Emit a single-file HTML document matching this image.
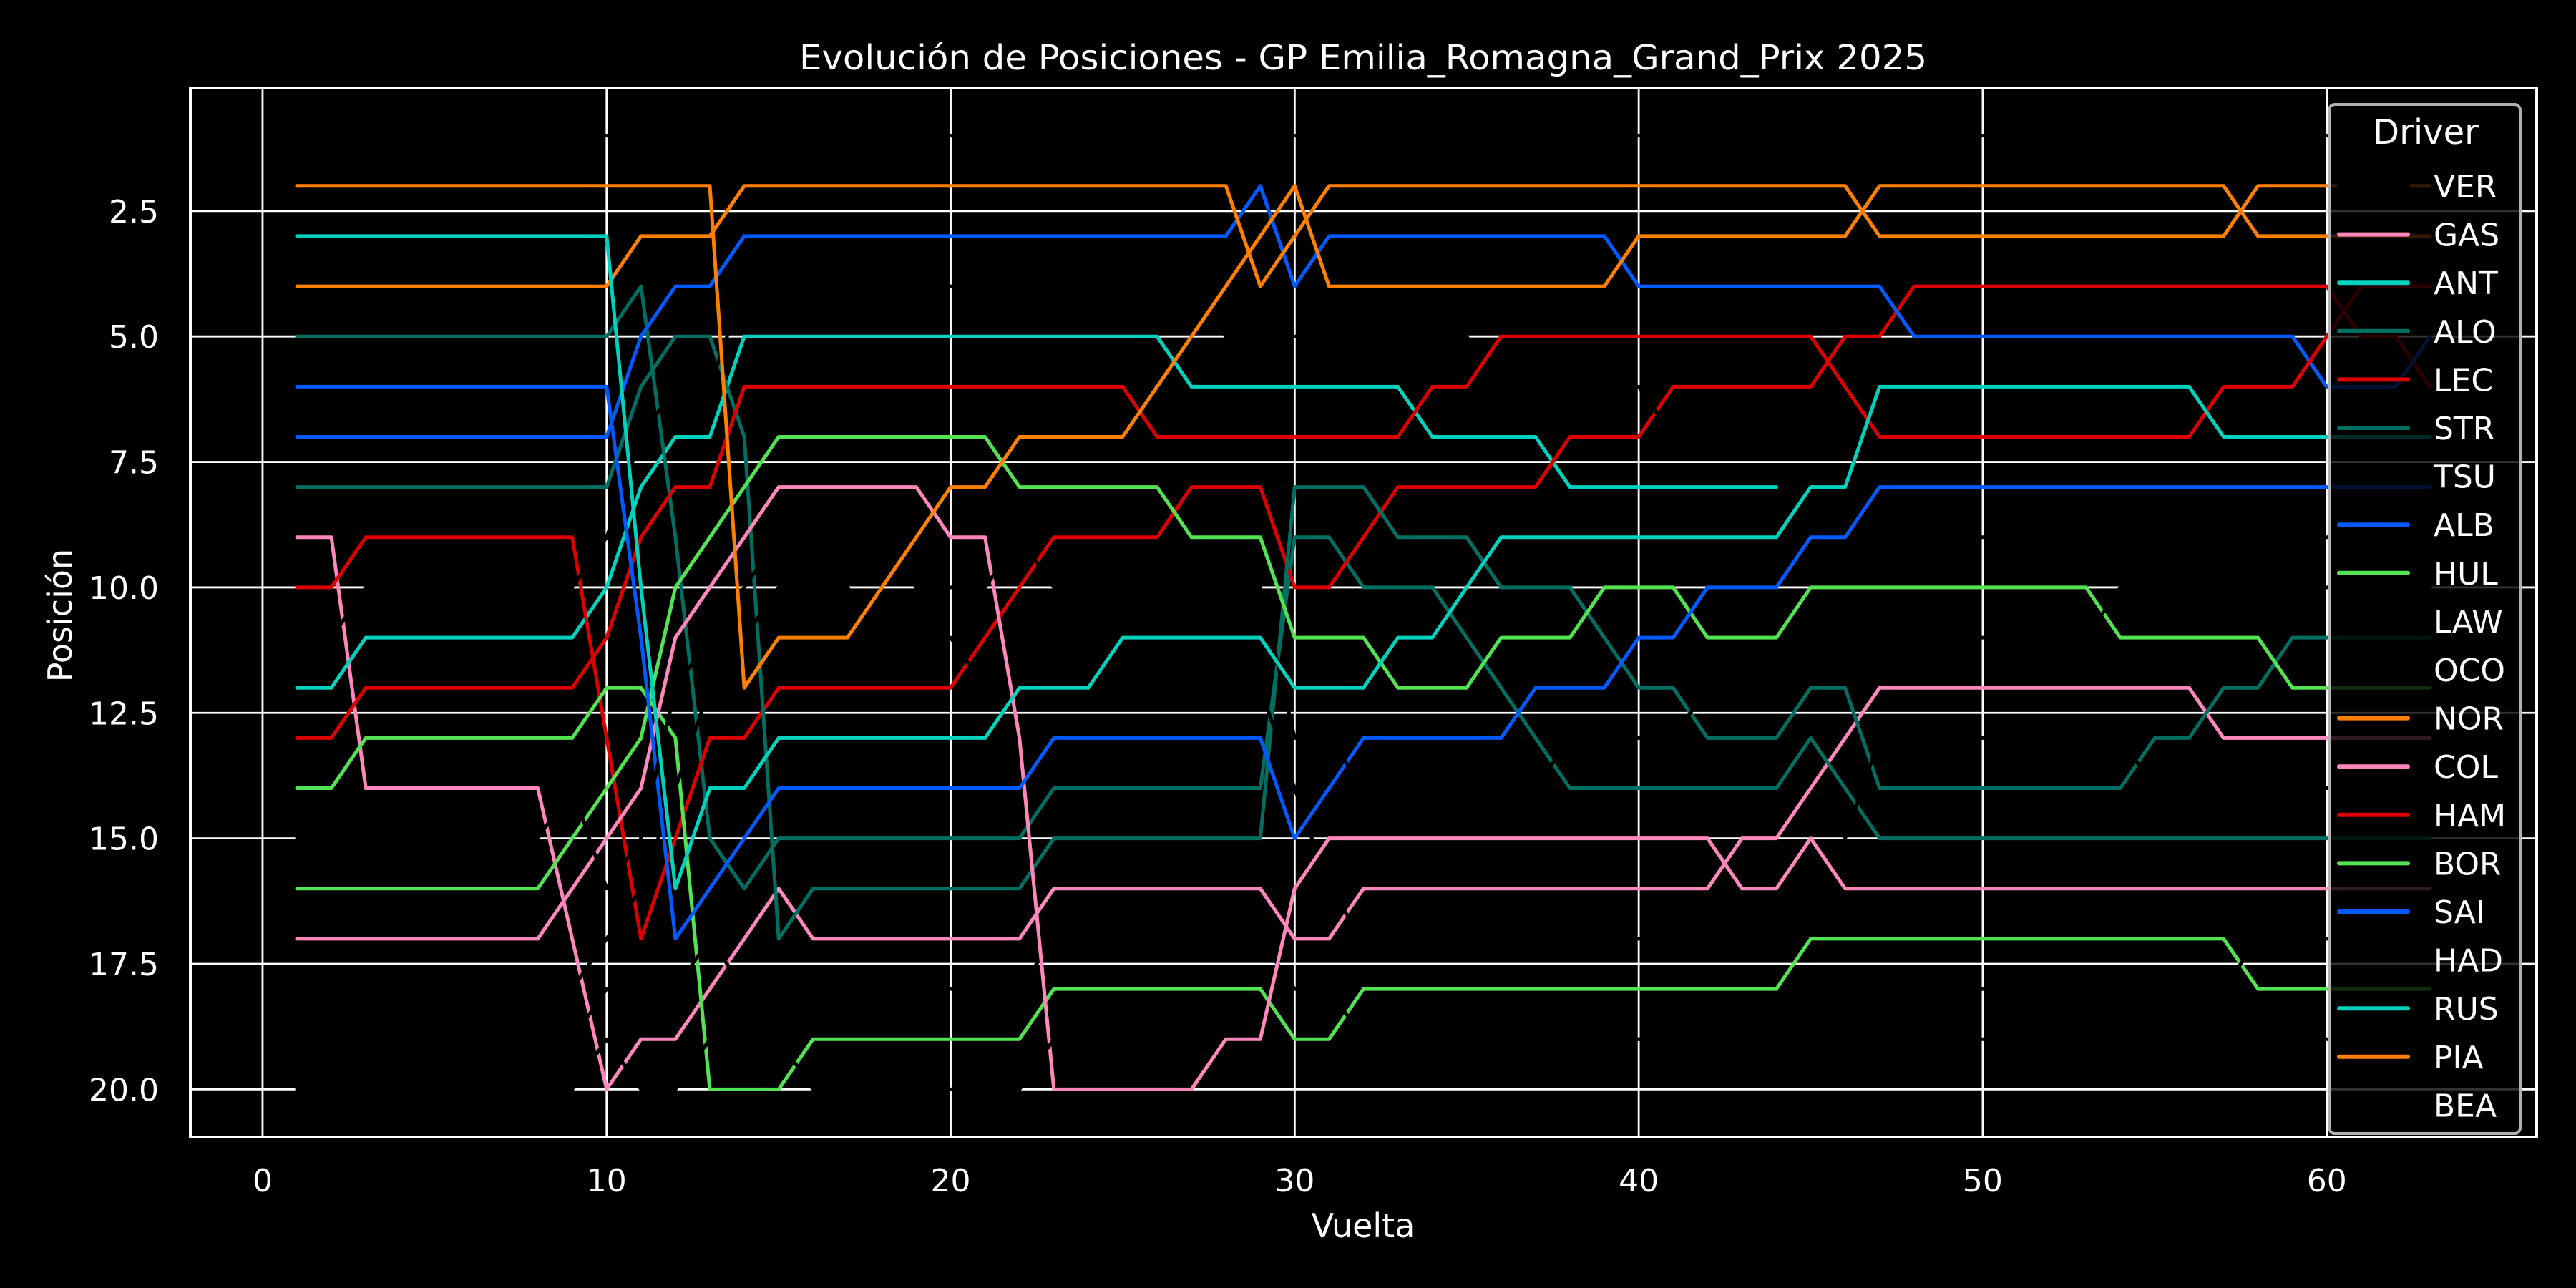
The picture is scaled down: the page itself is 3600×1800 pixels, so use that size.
<!DOCTYPE html>
<html><head><meta charset="utf-8"><title>Evolución de Posiciones</title>
<style>html,body{margin:0;padding:0;background:#000;}svg{display:block;}</style></head>
<body>
<svg id="chart" xmlns="http://www.w3.org/2000/svg" width="3600" height="1800" viewBox="0 0 3600 1800" style="font-family:'DejaVu Sans','Liberation Sans',sans-serif">
<rect x="0" y="0" width="3600" height="1800" fill="#000"/>
<g id="grid"></g>
<g id="series"></g>
<g id="axes"></g>
<g id="legend"></g>
<text x="1905" y="97" fill="#fff" font-size="48" text-anchor="middle" textLength="1576" lengthAdjust="spacingAndGlyphs">Evolución de Posiciones - GP Emilia_Romagna_Grand_Prix 2025</text>
<text x="1905" y="1729" fill="#fff" font-size="46" text-anchor="middle">Vuelta</text>
<text x="100" y="860" fill="#fff" font-size="46" text-anchor="middle" transform="rotate(-90 100 860)">Posición</text>
</svg>
<script>
var drivers = ["VER","GAS","ANT","ALO","LEC","STR","TSU","ALB","HUL","LAW","OCO","NOR","COL","HAM","BOR","SAI","HAD","RUS","PIA","BEA"];
var driverColors = ["#000000","#ff87bc","#00d2be","#006f62","#dc0000","#006f62","#000000","#005aff","#52e252","#000000","#000000","#ff8000","#ff87bc","#dc0000","#52e252","#005aff","#000000","#00d2be","#ff8000","#000000"];
var xTicks = [0,10,20,30,40,50,60];
var yTicks = [2.5,5.0,7.5,10.0,12.5,15.0,17.5,20.0];
var yTickLabels = ["2.5","5.0","7.5","10.0","12.5","15.0","17.5","20.0"];
var N = null;
var VER = [1,1,1,1,1,1,1,1,1,1,1,1,1,1,1,1,1,1,1,1,1,1,1,1,1,1,1,1,1,1,1,1,1,1,1,1,1,1,1,1,1,1,1,1,1,1,1,1,1,1,1,1,1,1,1,1,1,1,1,1,1,1,1];
var GAS = [9,9,14,14,14,14,14,14,17,20,19,19,18,17,16,17,17,17,17,17,17,17,16,16,16,16,16,16,16,17,17,16,16,16,16,16,16,16,16,16,16,16,15,15,14,13,12,12,12,12,12,12,12,12,12,12,13,13,13,13,13,13,13];
var ANT = [12,12,11,11,11,11,11,11,11,10,8,7,7,5,5,5,5,5,5,5,5,5,5,5,5,5,6,6,6,6,6,6,6,7,7,7,7,8,8,8,8,8,8,8,N,N,N,N,N,N,N,N,N,N,N,N,N,N,N,N,N,N,N];
var ALO = [5,5,5,5,5,5,5,5,5,5,4,9,15,16,15,15,15,15,15,15,15,15,14,14,14,14,14,14,14,9,9,10,10,10,11,12,13,14,14,14,14,14,14,14,13,14,15,15,15,15,15,15,15,15,15,15,15,15,15,15,15,15,15];
var LEC = [10,10,9,9,9,9,9,9,9,13,17,15,13,13,12,12,12,12,12,12,11,10,9,9,9,9,8,8,8,10,10,9,8,8,8,8,8,7,7,7,6,6,6,6,6,5,5,4,4,4,4,4,4,4,4,4,4,4,4,4,5,5,6];
var STR = [8,8,8,8,8,8,8,8,8,8,6,5,5,7,17,16,16,16,16,16,16,16,15,15,15,15,15,15,15,8,8,8,9,9,9,10,10,10,11,12,12,13,13,13,12,12,14,14,14,14,14,14,14,14,13,13,12,12,11,11,11,11,11];
var TSU = [11,11,10,10,10,10,10,10,10,9,7,6,6,4,4,4,4,4,4,4,4,4,4,4,4,4,4,5,5,5,5,5,5,5,5,6,6,6,6,6,7,7,7,7,7,7,9,9,9,9,9,9,9,9,9,9,9,9,9,9,9,9,9];
var ALB = [7,7,7,7,7,7,7,7,7,7,5,4,4,3,3,3,3,3,3,3,3,3,3,3,3,3,3,3,2,4,3,3,3,3,3,3,3,3,3,4,4,4,4,4,4,4,4,5,5,5,5,5,5,5,5,5,5,5,5,6,6,6,5];
var HUL = [14,14,13,13,13,13,13,13,13,12,12,13,20,20,20,19,19,19,19,19,19,19,18,18,18,18,18,18,18,19,19,18,18,18,18,18,18,18,18,18,18,18,18,18,17,17,17,17,17,17,17,17,17,17,17,17,17,18,18,18,18,18,18];
var LAW = [19,19,19,19,19,19,19,19,19,18,18,18,17,18,18,18,18,18,18,18,18,18,17,17,17,17,17,17,17,18,18,19,19,19,19,19,19,19,19,19,19,19,19,19,18,18,18,18,18,18,18,18,18,18,18,18,18,17,17,17,17,17,17];
var OCO = [18,18,18,18,18,18,18,18,18,17,16,14,12,11,10,10,10,11,11,11,12,11,11,11,12,12,12,12,12,14,16,17,17,17,17,17,17,17,17,17,17,17,17,17,16,15,13,13,13,13,13,13,13,13,14,14,14,14,14,14,14,14,14];
var NOR = [4,4,4,4,4,4,4,4,4,4,3,3,3,2,2,2,2,2,2,2,2,2,2,2,2,2,2,2,4,3,2,2,2,2,2,2,2,2,2,2,2,2,2,2,2,2,3,3,3,3,3,3,3,3,3,3,3,2,2,2,2,2,2];
var COL = [17,17,17,17,17,17,17,17,16,15,14,11,10,9,8,8,8,8,8,9,9,13,20,20,20,20,20,19,19,16,15,15,15,15,15,15,15,15,15,15,15,15,16,16,15,16,16,16,16,16,16,16,16,16,16,16,16,16,16,16,16,16,16];
var HAM = [13,13,12,12,12,12,12,12,12,11,9,8,8,6,6,6,6,6,6,6,6,6,6,6,6,7,7,7,7,7,7,7,7,6,6,5,5,5,5,5,5,5,5,5,5,6,7,7,7,7,7,7,7,7,7,7,6,6,6,5,4,4,4];
var BOR = [16,16,16,16,16,16,16,16,15,14,13,10,9,8,7,7,7,7,7,7,7,8,8,8,8,8,9,9,9,11,11,11,12,12,12,11,11,11,10,10,10,11,11,11,10,10,10,10,10,10,10,10,10,11,11,11,11,11,12,12,12,12,12];
var SAI = [6,6,6,6,6,6,6,6,6,6,11,17,16,15,14,14,14,14,14,14,14,14,13,13,13,13,13,13,13,15,14,13,13,13,13,13,12,12,12,11,11,10,10,10,9,9,8,8,8,8,8,8,8,8,8,8,8,8,8,8,8,8,8];
var HAD = [15,15,15,15,15,15,15,15,14,16,15,12,11,10,9,9,9,9,10,10,10,9,10,10,10,10,10,10,10,13,13,14,14,14,14,14,14,13,13,13,13,12,12,12,11,11,11,11,11,11,11,11,11,10,10,10,10,10,10,10,10,10,10];
var RUS = [3,3,3,3,3,3,3,3,3,3,10,16,14,14,13,13,13,13,13,13,13,12,12,12,11,11,11,11,11,12,12,12,11,11,10,9,9,9,9,9,9,9,9,9,8,8,6,6,6,6,6,6,6,6,6,6,7,7,7,7,7,7,7];
var PIA = [2,2,2,2,2,2,2,2,2,2,2,2,2,12,11,11,11,10,9,8,8,7,7,7,7,6,5,4,3,2,4,4,4,4,4,4,4,4,4,3,3,3,3,3,3,3,2,2,2,2,2,2,2,2,2,2,2,3,3,3,3,3,3];
var BEA = [20,20,20,20,20,20,20,20,20,19,20,20,19,19,19,20,20,20,20,20,20,20,19,19,19,19,19,N,N,N,N,19,19,19,19,19,19,19,19,19,19,19,19,19,19,19,19,19,19,19,19,19,19,19,19,19,19,19,19,19,19,19,19];
var positions = [VER,GAS,ANT,ALO,LEC,STR,TSU,ALB,HUL,LAW,OCO,NOR,COL,HAM,BOR,SAI,HAD,RUS,PIA,BEA];

var NS = "http://www.w3.org/2000/svg";
var X0 = 266, X1 = 3545, Y0 = 123, Y1 = 1589;
var xMin = -2.1, xMax = 66.1, yMin = 0.05, yMax = 20.95;
function xs(v){ return X0 + (v - xMin) / (xMax - xMin) * (X1 - X0); }
function ys(v){ return Y0 + (v - yMin) / (yMax - yMin) * (Y1 - Y0); }
function mk(tag, attrs, parent){ var e = document.createElementNS(NS, tag); for (var k in attrs) e.setAttribute(k, attrs[k]); parent.appendChild(e); return e; }

var grid = document.getElementById('grid');
var axes = document.getElementById('axes');
xTicks.forEach(function(t){
  var l = mk('line', {x1: xs(t), x2: xs(t), y1: Y0, y2: Y1, stroke: '#fff', 'stroke-width': 2.8}, grid);
  
  
  var tx = mk('text', {x: xs(t), y: 1665, fill: '#fff', 'font-size': 44, 'text-anchor': 'middle'}, axes);
  tx.textContent = String(t);
  
  
});
yTicks.forEach(function(t, i){
  var l = mk('line', {x1: X0, x2: X1, y1: ys(t), y2: ys(t), stroke: '#fff', 'stroke-width': 2.8}, grid);
  
  
  var tx = mk('text', {x: 222, y: ys(t) + 16, fill: '#fff', 'font-size': 44, 'text-anchor': 'end'}, axes);
  tx.textContent = yTickLabels[i];
  
  
});
var frame = mk('rect', {x: X0, y: Y0, width: X1 - X0, height: Y1 - Y0, fill: 'none', stroke: '#fff', 'stroke-width': 4}, axes);



var series = document.getElementById('series');
positions.forEach(function(arr, i){
  var segs = [], cur = [];
  arr.forEach(function(v, j){
    if (v === null) { if (cur.length) segs.push(cur); cur = []; }
    else cur.push(xs(j + 1).toFixed(1) + ',' + ys(v).toFixed(1));
  });
  if (cur.length) segs.push(cur);
  var g = mk('g', {}, series);
  
  
  segs.forEach(function(s){
    mk('polyline', {points: s.join(' '), fill: 'none', stroke: driverColors[i], 'stroke-width': 5, 'stroke-linejoin': 'round', 'stroke-linecap': 'round'}, g);
  });
});

var legend = document.getElementById('legend');
var box = mk('rect', {x: 3255, y: 146, width: 267, height: 1438, rx: 8, fill: 'rgba(0,0,0,0.8)', stroke: '#b0b0b0', 'stroke-width': 4}, legend);


var lt = mk('text', {x: 3390, y: 201, fill: '#fff', 'font-size': 48, 'text-anchor': 'middle'}, legend);
lt.textContent = 'Driver';


drivers.forEach(function(d, i){
  var cy = 260 + 67.6 * i;
  var g = mk('g', {}, legend);
  
  
  mk('line', {x1: 3269, x2: 3365, y1: cy, y2: cy, stroke: driverColors[i], 'stroke-width': 6, 'stroke-linecap': 'round'}, g);
  var t = mk('text', {x: 3401, y: cy + 16, fill: '#fff', 'font-size': 44}, g);
  t.textContent = d;
});
</script>
</body></html>
